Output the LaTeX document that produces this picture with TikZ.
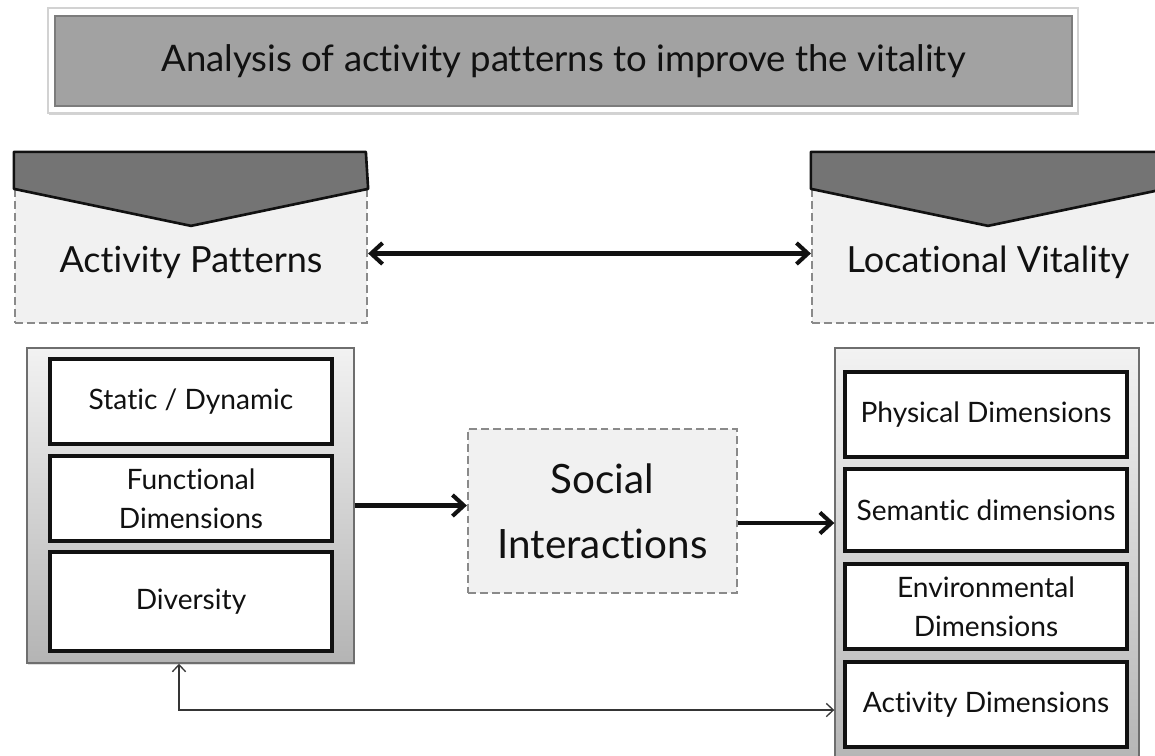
\documentclass[tikz,border=0pt]{standalone}
\usepackage{fontspec}
\setmainfont{Lato}[Ligatures=NoCommon]
\usetikzlibrary{calc,arrows.meta,shadows}
\definecolor{ink}{HTML}{111111}
\definecolor{bandgray}{HTML}{747474}
\definecolor{ttlgray}{HTML}{A2A2A2}
\definecolor{ttledge}{HTML}{7C7C7C}
\definecolor{frame}{HTML}{D2D2D2}
\definecolor{paper}{HTML}{F1F1F1}
\definecolor{dashgray}{HTML}{8A8A8A}
\definecolor{conttop}{HTML}{F2F2F2}
\definecolor{contbot}{HTML}{B4B4B4}
\definecolor{contedge}{HTML}{6E6E6E}
\tikzset{
  ttlframe/.style={draw=frame, fill=white, line width=0.8pt, inner sep=0pt,
    drop shadow={opacity=0.35, shadow xshift=0.6pt, shadow yshift=-1.2pt}},
  ttl/.style={draw=ttledge, fill=ttlgray, line width=0.8pt, inner sep=0pt, text=ink,
    font=\fontsize{20.8}{24}\selectfont},
  hdrbox/.style={draw=dashgray, fill=paper, line width=1.3pt, dash pattern=on 4.5pt off 2.3pt,
    inner sep=0pt, text=ink, text height=18.7pt, text depth=0pt, font=\fontsize{20.5}{24}\selectfont},
  band/.style={draw=ink, fill=bandgray, line width=1.5pt, line join=round},
  cont/.style={draw=contedge, line width=0.8pt, top color=conttop, bottom color=contbot, inner sep=0pt,
    drop shadow={opacity=0.25, shadow xshift=0.8pt, shadow yshift=-1.2pt}},
  item/.style={draw=ink, fill=white, line width=2.1pt, inner sep=0pt, align=center, text=ink,
    font=\fontsize{16}{22}\selectfont},
  socbox/.style={draw=dashgray, fill=paper, line width=1.3pt, dash pattern=on 4.5pt off 2.3pt,
    inner sep=0pt, align=center, text=ink, font=\fontsize{23}{37}\selectfont},
  flow/.style={draw=ink, line width=2.3pt, -{Straight Barb[length=6.5pt,width=12pt,line width=2.3pt]}},
  twoway/.style={draw=ink, line width=2.3pt,
    {Straight Barb[length=6.5pt,width=12pt,line width=2.3pt]}-{Straight Barb[length=6.5pt,width=12pt,line width=2.3pt]}},
  fback/.style={draw=ink!85, line width=0.75pt,
    {Straight Barb[length=4pt,width=7.5pt]}-{Straight Barb[length=4pt,width=7.5pt]}},
}

\begin{document}
\begin{tikzpicture}[x=0.02cm,y=-0.02cm]
  \def\u{0.02cm}
  \useasboundingbox (0,0) rectangle (1155,755);
  \clip (0,0) rectangle (1155,755);

  \node[ttlframe,minimum width=1030*\u,minimum height=105*\u] (frame) at (563,60.5) {};
  \node[ttl,minimum width=1017*\u,minimum height=90*\u] (title) at (563.5,61)
    {Analysis of activity patterns to improve the vitality};

  \node[hdrbox,minimum width=352*\u,minimum height=133*\u] (actpat) at (191,256.5) {Activity Patterns};
  \node[hdrbox,minimum width=352*\u,minimum height=133*\u] (locvit) at (988,256.5) {Locational Vitality};
  \draw[band] (actpat.north west) -- ++(0,-37) -- ++(352,0) -- (actpat.north east)
    -- ($(actpat.north)+(0,37)$) -- cycle;
  \draw[band] (locvit.north west) -- ++(0,-37) -- ++(352,0) -- (locvit.north east)
    -- ($(locvit.north)+(0,37)$) -- cycle;
  \draw[twoway] ([yshift=3*\u]actpat.east) -- ([yshift=3*\u]locvit.west);

  \node[cont,minimum width=327*\u,minimum height=315*\u] (lcont) at (190.5,505.5) {};
  \node[item,minimum width=282*\u,minimum height=85*\u] (static) at (191,401.5) {Static / Dynamic};
  \node[item,minimum width=282*\u,minimum height=85*\u] (func) at (191,498.5) {Functional\\Dimensions};
  \node[item,minimum width=282*\u,minimum height=99*\u] (divers) at (191,601.5) {Diversity};

  \node[socbox,minimum width=269*\u,minimum height=164*\u] (social) at (602.5,511) {Social\\Interactions};

  \node[cont,minimum width=304*\u,minimum height=422*\u] (rcont) at (987,559) {};
  \node[item,minimum width=282*\u,minimum height=85*\u] (phys) at (986,414.5) {Physical Dimensions};
  \node[item,minimum width=282*\u,minimum height=82*\u] (sem) at (986,510) {Semantic dimensions};
  \node[item,minimum width=282*\u,minimum height=85*\u] (env) at (986,606.5) {Environmental\\Dimensions};
  \node[item,minimum width=282*\u,minimum height=85*\u] (actdim) at (986,704.5) {Activity Dimensions};

  \draw[flow] (lcont.east) -- (lcont.east -| social.west);
  \draw[flow] ([yshift=-12*\u]social.east) -- ([yshift=-12*\u]social.east -| rcont.west);

  \coordinate (turn) at (179,710);
  \draw[fback] (lcont.south -| turn) |- (rcont.west |- turn);
\end{tikzpicture}
\end{document}
